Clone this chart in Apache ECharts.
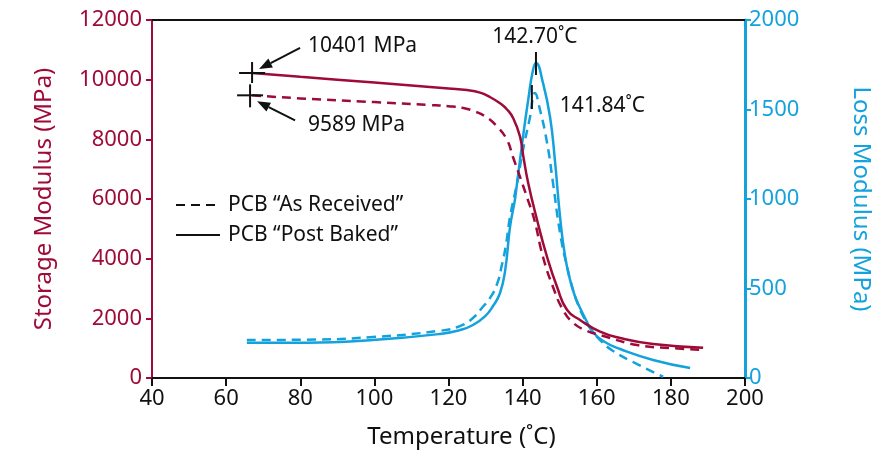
<!DOCTYPE html>
<html>
<head>
<meta charset="utf-8">
<script src="https://cdn.jsdelivr.net/npm/echarts@6/dist/echarts.min.js"></script>
<style>html,body{margin:0;padding:0;background:#fff}#c{width:888px;height:456px}</style>
</head>
<body>
<div id="c"></div>
<script>
// ---- data ----
const xTicks = [40, 60, 80, 100, 120, 140, 160, 180, 200];
const storageTicks = [0, 2000, 4000, 6000, 8000, 10000, 12000];
const lossTicks = [0, 500, 1000, 1500, 2000];

const bakedStorageT = [67.0, 80, 100, 120, 125, 128.5, 131, 133.9, 135.8, 137.5, 139.3, 140.2, 141.5, 143.9, 146.6, 149.3, 152, 155.5, 160.9, 166.3, 175.2, 188.7];
const bakedStorage = [10224, 10096, 9902, 9704, 9650, 9566, 9430, 9208, 9000, 8700, 8090, 7420, 6536, 5296, 4056, 3050, 2279, 1944, 1552, 1341, 1140, 1016];

const recvStorageT = [67.0, 80, 100, 115, 120, 124, 127, 130, 133.1, 135.8, 137.4, 139.3, 141.2, 143.1, 145.5, 148.2, 150.9, 153.6, 157, 160.9, 170.9, 179.8, 188.7];
const recvStorage = [9475, 9372, 9248, 9150, 9110, 9050, 8940, 8760, 8430, 7978, 7408, 6738, 6050, 5330, 4056, 3050, 2279, 1854, 1600, 1441, 1106, 1006, 939];

const bakedLossT = [65.6, 81.7, 99.6, 117.7, 123.1, 126.6, 129.9, 132.0, 133.9, 135.3, 136.6, 137.9, 138.5, 140.1, 141.5, 142.8, 143.6, 145.5, 147.4, 148.7, 150.1, 151.4, 152.8, 154.1, 155.5, 157.1, 159.0, 162.2, 166.3, 175.2, 185.2];
const bakedLoss = [197, 197, 212, 246, 268, 296, 346, 402, 475, 603, 844, 994, 1089, 1346, 1553, 1721, 1760, 1648, 1458, 1218, 900, 687, 548, 458, 391, 324, 257, 201, 162, 101, 56];

const recvLossT = [65.6, 81.7, 99.6, 117.7, 123.1, 126.6, 129.0, 131.2, 133.1, 134.4, 135.5, 136.6, 138.5, 140.1, 142, 143.3, 144.7, 146.6, 148.2, 150.1, 152, 153.6, 155.0, 156.6, 158.2, 160.9, 164.4, 170.9, 177.9];
const recvLoss = [212, 214, 229, 264, 290, 335, 391, 447, 525, 631, 743, 900, 1089, 1274, 1458, 1592, 1497, 1313, 1089, 810, 620, 492, 408, 335, 279, 212, 151, 78, 7];

const seriesNames = ['PCB \u201CAs Received\u201D', 'PCB \u201CPost Baked\u201D'];
const startLabels = ['10401 MPa', '9589 MPa'];
const peakLabels = ['142.70\u02DAC', '141.84\u02DAC'];

// ---- styling ----
const RED = '#9e0b38';
const BLUE = '#14a2dd';
const FONT = 'Noto Sans';

function pairs(xs, ys) { return xs.map((x, i) => [x, ys[i]]); }

const chart = echarts.init(document.getElementById('c'), null, { renderer: 'canvas' });

const lineCommon = { type: 'line', showSymbol: false, symbol: 'none', smooth: 0.5, animation: false };
const plain = v => String(v);

chart.setOption({
  animation: false,
  backgroundColor: '#fff',
  textStyle: { fontFamily: FONT },
  grid: { left: 152, right: 143, top: 20, bottom: 78, containLabel: false },
  xAxis: [{
    type: 'value', min: xTicks[0], max: xTicks[xTicks.length - 1], interval: 20,
    name: 'Temperature (\u02DAC)', nameLocation: 'middle', nameGap: 47,
    nameTextStyle: { fontSize: 24, color: '#111', padding: [0, 0, 0, 26] },
    axisLine: { lineStyle: { color: '#111', width: 2 } },
    axisTick: { show: true, length: 8, inside: false, lineStyle: { color: '#111', width: 2 } },
    axisLabel: { fontSize: 22, color: '#111', margin: 10, formatter: plain },
    splitLine: { show: false }
  }, {
    type: 'value', min: xTicks[0], max: xTicks[xTicks.length - 1], position: 'top',
    axisLine: { show: true, onZero: false, lineStyle: { color: '#111', width: 2 } },
    axisTick: { show: false }, axisLabel: { show: false }, splitLine: { show: false }
  }],
  yAxis: [{
    type: 'value', min: storageTicks[0], max: storageTicks[storageTicks.length - 1], interval: 2000,
    position: 'left',
    name: 'Storage Modulus (MPa)', nameLocation: 'middle', nameGap: 96, nameRotate: 90,
    nameTextStyle: { fontSize: 24, color: RED },
    axisLine: { show: true, onZero: false, lineStyle: { color: RED, width: 2 } },
    axisTick: { show: true, length: 6, lineStyle: { color: RED, width: 2 } },
    axisLabel: { fontSize: 22, color: RED, margin: 10, formatter: plain },
    splitLine: { show: false }
  }, {
    type: 'value', min: lossTicks[0], max: lossTicks[lossTicks.length - 1], interval: 500,
    position: 'right',
    name: 'Loss Modulus (MPa)', nameLocation: 'middle', nameGap: 104, nameRotate: -90,
    nameTextStyle: { fontSize: 24, color: BLUE },
    axisLine: { show: true, onZero: false, lineStyle: { color: BLUE, width: 3 } },
    axisTick: { show: true, length: 6, lineStyle: { color: BLUE, width: 2 } },
    axisLabel: { fontSize: 22, color: BLUE, margin: 4, formatter: plain },
    splitLine: { show: false }
  }],
  series: [
    Object.assign({}, lineCommon, { name: 'recvLoss', xAxisIndex: 0, yAxisIndex: 1, data: pairs(recvLossT, recvLoss), lineStyle: { color: BLUE, width: 2.5, type: [9, 6] } }),
    Object.assign({}, lineCommon, { name: 'bakedLoss', xAxisIndex: 0, yAxisIndex: 1, data: pairs(bakedLossT, bakedLoss), lineStyle: { color: BLUE, width: 2.5 } }),
    Object.assign({}, lineCommon, { name: 'recvStorage', xAxisIndex: 0, yAxisIndex: 0, data: pairs(recvStorageT, recvStorage), lineStyle: { color: RED, width: 2.5, type: [9, 6] } }),
    Object.assign({}, lineCommon, { name: 'bakedStorage', xAxisIndex: 0, yAxisIndex: 0, data: pairs(bakedStorageT, bakedStorage), lineStyle: { color: RED, width: 2.5 } })
  ]
});

// ---- annotations placed from data through the axes ----
function px(axisY, x, y) { return chart.convertToPixel({ xAxisIndex: 0, yAxisIndex: axisY }, [x, y]); }
function argmax(a) { let k = 0; a.forEach((v, i) => { if (v > a[k]) k = i; }); return k; }

const g = [];
const black = { stroke: '#111', lineWidth: 2 };
function seg(x1, y1, x2, y2, dash) { g.push({ type: 'line', shape: { x1, y1, x2, y2 }, style: Object.assign({}, black, dash ? { lineDash: dash } : {}), z: 100 }); }
function arrow(x1, y1, x2, y2) {
  const ang = Math.atan2(y2 - y1, x2 - x1), L = 13, W = 5;
  const bx = x2 - L * Math.cos(ang), by = y2 - L * Math.sin(ang);
  seg(x1, y1, bx, by);
  g.push({ type: 'polygon', shape: { points: [[x2, y2], [bx + W * Math.sin(ang), by - W * Math.cos(ang)], [bx - W * Math.sin(ang), by + W * Math.cos(ang)]] }, style: { fill: '#111' }, z: 100 });
}
function text(x, y, s, align) {
  g.push({ type: 'text', x, y, style: { text: s, fontFamily: FONT, fontSize: 21, fill: '#111', align: align || 'left', verticalAlign: 'middle' }, z: 100 });
}

// legend (inside plot)
seg(176, 205, 220, 205, [9, 6]);
text(228, 205, seriesNames[0]);
seg(176, 235, 220, 235);
text(228, 235, seriesNames[1]);

// crosshairs at start of storage curves
const p1 = px(0, bakedStorageT[0], bakedStorage[0]);
seg(p1[0] - 13, p1[1], p1[0] + 13, p1[1]); seg(p1[0], p1[1] - 11, p1[0], p1[1] + 10);
arrow(p1[0] + 48, p1[1] - 25, p1[0] + 7, p1[1] - 4);
text(p1[0] + 56, p1[1] - 27, startLabels[0]);

const p2 = px(0, recvStorageT[0], recvStorage[0]);
seg(p2[0] - 15, p2[1], p2[0] + 11, p2[1]); seg(p2[0] - 2, p2[1] - 11, p2[0] - 2, p2[1] + 12);
arrow(p2[0] + 43, p2[1] + 25, p2[0] + 5, p2[1] + 6);
text(p2[0] + 56, p2[1] + 30, startLabels[1]);

// peak ticks on loss curves
const kb = argmax(bakedLoss), kr = argmax(recvLoss);
const q1 = px(1, bakedLossT[kb], bakedLoss[kb]);
seg(q1[0], q1[1] - 11, q1[0], q1[1] + 12);
text(q1[0] - 1, q1[1] - 26, peakLabels[0], 'center');
const q2 = px(1, recvLossT[kr], recvLoss[kr]);
seg(q2[0] - 3, q2[1] - 8, q2[0] - 3, q2[1] + 16);
text(q2[0] + 25, q2[1] + 13, peakLabels[1]);

chart.setOption({ graphic: g });
</script>
</body>
</html>
